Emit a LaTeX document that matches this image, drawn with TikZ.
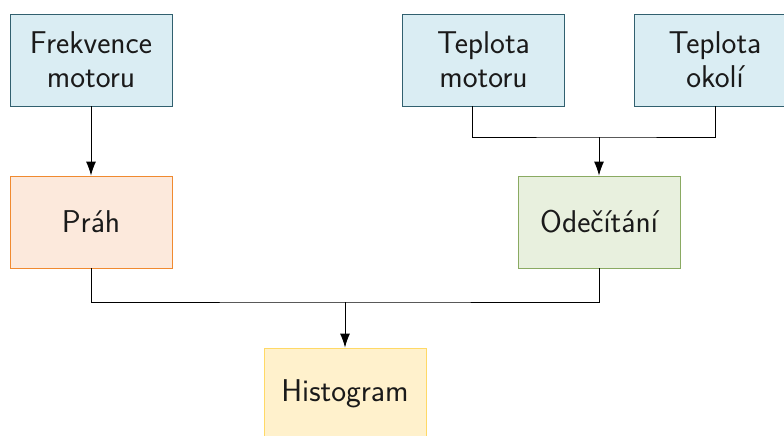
\documentclass[tikz,border=0pt]{standalone}
\usetikzlibrary{arrows.meta}
\definecolor{bfill}{HTML}{DAEDF3}
\definecolor{bdraw}{HTML}{31606F}
\definecolor{ofill}{HTML}{FCE9DC}
\definecolor{odraw}{HTML}{F08A30}
\definecolor{gfill}{HTML}{E8F0DE}
\definecolor{gdraw}{HTML}{8AAA62}
\definecolor{yfill}{HTML}{FFF1CC}
\definecolor{ydraw}{HTML}{FFD966}
\definecolor{txt}{HTML}{1A1A1A}
\tikzset{
  box/.style={rectangle, minimum width=162pt, minimum height=92pt, inner sep=0pt, align=center, text=txt, font=\sffamily\fontsize{31.5}{34}\selectfont, line width=0.9pt},
  bluebox/.style={box, fill=bfill, draw=bdraw},
  orangebox/.style={box, fill=ofill, draw=odraw},
  greenbox/.style={box, fill=gfill, draw=gdraw},
  yellowbox/.style={box, fill=yfill, draw=ydraw},
  conn/.style={line width=0.9pt, draw=black},
  arr/.style={conn, -{Latex[length=14pt,width=10pt]}},
}
\begin{document}
\begin{tikzpicture}[x=1pt,y=-1pt]
\useasboundingbox (0,0) rectangle (784,436);
\clip (0,0) rectangle (784,436);
\node[bluebox] (frek) at (91,60) {Frekvence\\motoru};
\node[bluebox] (tmot) at (483.5,60) {Teplota\\motoru};
\node[bluebox] (tok) at (715,60) {Teplota\\okolí};
\node[orangebox] (prah) at (91,222) {Práh};
\node[greenbox] (odec) at (599,222) {Odečítání};
\node[yellowbox] (hist) at (345,394) {Histogram};
\coordinate (j1) at (599,137);
\coordinate (j2) at (345,302);
\draw[arr] (frek) -- (prah);
\draw[conn] (tmot.south -| 472,0) |- (j1) -| (tok.south);
\draw[arr] (j1) -- (odec);
\draw[conn] (prah.south) |- (j2) -| (odec.south);
\draw[arr] (j2) -- (hist);
\end{tikzpicture}
\end{document}
